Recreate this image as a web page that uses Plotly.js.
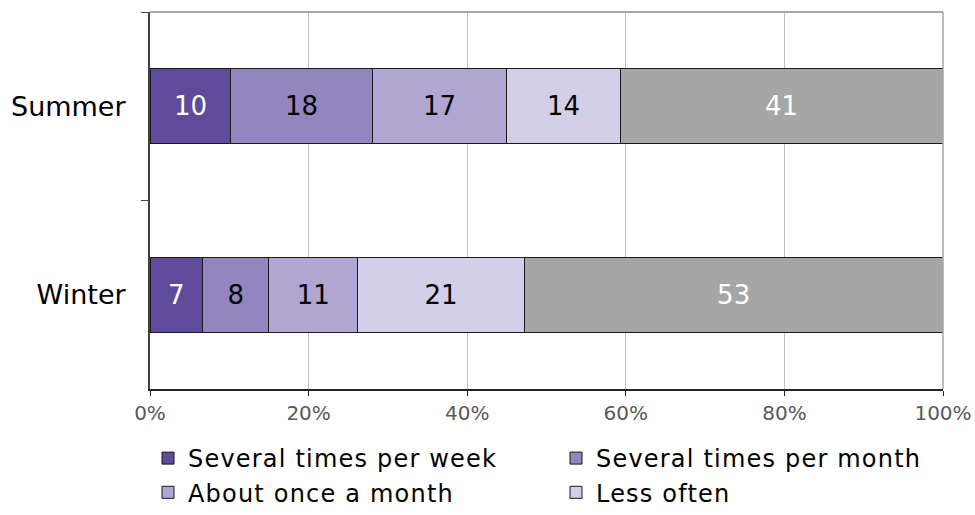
<!DOCTYPE html>
<html>
<head>
<meta charset="utf-8">
<script src="https://cdn.plot.ly/plotly-3.0.1.min.js"></script>
<style>
html,body{margin:0;padding:0;background:#fff;}
#chart{width:975px;height:515px;}
#chart .legend .legendtext{letter-spacing:1.2px;}
</style>
</head>
<body>
<div id="chart"></div>
<script>
const seasons = ["Summer", "Winter"];
const seriesNames = ["Several times per week", "Several times per month", "About once a month", "Less often", "Never"];
const weekly = [10.2, 6.6];
const monthly = [17.8, 8.4];
const onceMonth = [17.0, 11.2];
const lessOften = [14.3, 21.0];
const never = [40.7, 52.8];
const xTickVals = [0, 20, 40, 60, 80, 100];
const xTickText = ["0%", "20%", "40%", "60%", "80%", "100%"];

const seriesValues = [weekly, monthly, onceMonth, lessOften, never];
const colors = ["#5f4a9b", "#9385be", "#b0a6d1", "#d3cfe8", "#a6a6a6"];
const textColors = ["#ffffff", "#000000", "#000000", "#000000", "#ffffff"];
const showLegend = [true, true, true, true, false];

const data = seriesValues.map((vals, i) => ({
  type: "bar",
  orientation: "h",
  name: seriesNames[i],
  y: seasons,
  x: vals,
  text: vals.map(v => Math.round(v).toString()),
  texttemplate: "%{text}",
  textposition: "inside",
  insidetextanchor: "middle",
  constraintext: "none",
  textfont: {family: "DejaVu Sans", size: 26, color: textColors[i]},
  marker: {color: colors[i], line: {color: "#1a1a1a", width: 1}},
  showlegend: showLegend[i],
  hoverinfo: "skip"
}));

// page geometry (pixels)
const W = 975, H = 515;
const mL = 0, mR = 32, mT = 12, mB = 0;
const plotLeft = 150, plotBottom = 389;
const gw = W - mL - mR, gh = H - mT - mB;

const layout = {
  width: W,
  height: H,
  margin: {l: mL, r: mR, t: mT, b: mB},
  barmode: "stack",
  bargap: 0.6,
  paper_bgcolor: "#ffffff",
  plot_bgcolor: "#ffffff",
  font: {family: "DejaVu Sans", color: "#000"},
  xaxis: {
    domain: [(plotLeft - mL) / gw, 1],
    range: [0, 100],
    tickvals: xTickVals,
    ticktext: xTickText,
    showgrid: true,
    gridcolor: "#bfbfbf",
    gridwidth: 1,
    zeroline: false,
    showline: true,
    linecolor: "#262626",
    linewidth: 2,
    ticks: "outside",
    ticklen: 5,
    tickcolor: "#262626",
    tickfont: {family: "DejaVu Sans", size: 20, color: "#595959"},
    automargin: false,
    fixedrange: true
  },
  yaxis: {
    domain: [(H - mB - plotBottom) / gh, 1],
    type: "category",
    autorange: "reversed",
    tickson: "boundaries",
    showgrid: false,
    zeroline: false,
    showline: true,
    linecolor: "#404040",
    linewidth: 2,
    ticks: "outside",
    ticklen: 7,
    tickcolor: "#404040",
    ticklabelstandoff: 17,
    tickfont: {family: "DejaVu Sans", size: 27, color: "#000"},
    automargin: false,
    fixedrange: true
  },
  shapes: [
    {type: "line", xref: "x domain", yref: "y domain", x0: 0, x1: 1, y0: 1, y1: 1, line: {color: "#a6a6a6", width: 2}},
    {type: "line", xref: "x domain", yref: "y domain", x0: 1, x1: 1, y0: 0, y1: 1, line: {color: "#a6a6a6", width: 1.5}}
  ],
  legend: {
    orientation: "h",
    x: (148 - mL) / gw,
    xanchor: "left",
    y: 0,
    yanchor: "bottom",
    traceorder: "normal",
    entrywidth: 363,
    entrywidthmode: "pixels",
    tracegroupgap: 0,
    itemclick: false,
    itemdoubleclick: false,
    bgcolor: "rgba(0,0,0,0)",
    font: {family: "DejaVu Sans", size: 24, color: "#000"}
  },
  showlegend: true
};

Plotly.newPlot("chart", data, layout, {displayModeBar: false, staticPlot: true});
</script>
</body>
</html>
